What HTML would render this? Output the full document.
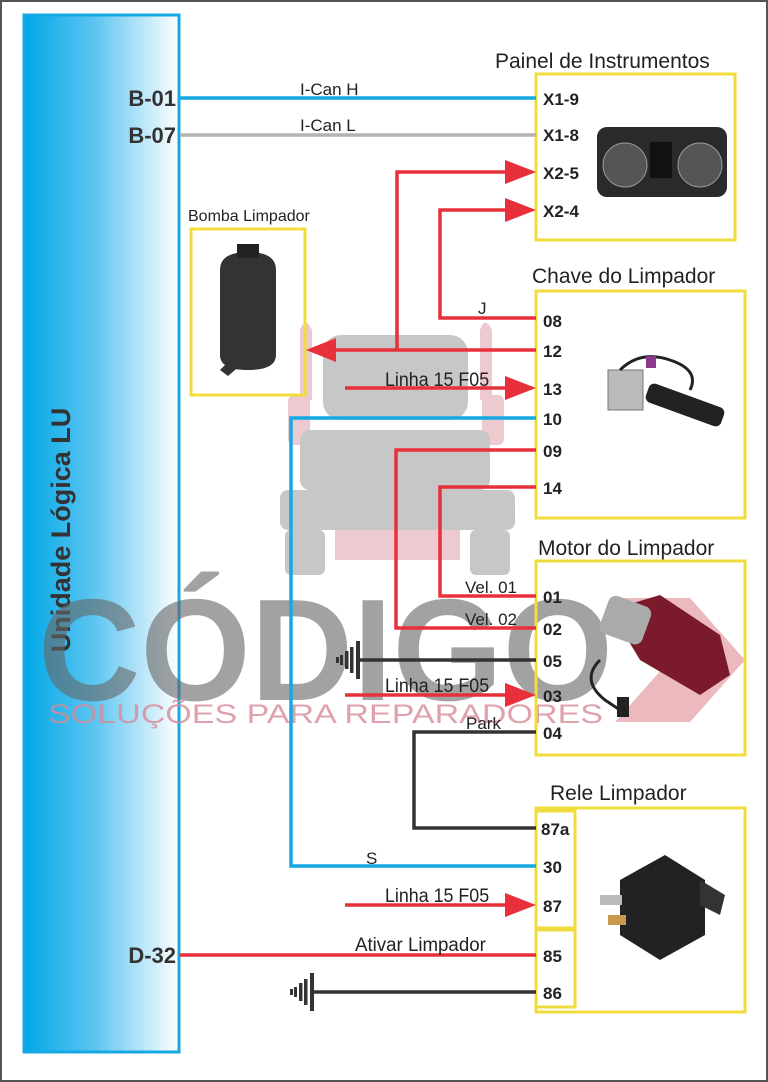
<!DOCTYPE html>
<html><head><meta charset="utf-8"><style>
html,body{margin:0;padding:0;background:#fff;}
svg{display:block;font-family:"Liberation Sans",Arial,sans-serif;}
.pin{font-weight:bold;font-size:17px;fill:#222;}
.t{font-size:21px;fill:#222;}
.l{font-size:17px;fill:#222;}
</style></head><body>
<svg width="768" height="1082" viewBox="0 0 768 1082" xmlns="http://www.w3.org/2000/svg">
<defs>
<linearGradient id="g" x1="0" x2="1" y1="0" y2="0">
<stop offset="0" stop-color="#00a8e8"/><stop offset="0.45" stop-color="#5cc4f0"/><stop offset="1" stop-color="#ffffff"/>
</linearGradient>
</defs>
<rect x="1" y="1" width="766" height="1080" fill="#fff" stroke="#555" stroke-width="2"/>
<rect x="24" y="15" width="155" height="1037" fill="url(#g)" stroke="#16a8e4" stroke-width="3"/>
<text transform="translate(70,530) rotate(-90)" text-anchor="middle" font-size="27" font-weight="bold" fill="#333">Unidade Lógica LU</text>
<text x="176" y="106" text-anchor="end" font-weight="bold" font-size="22" fill="#333">B-01</text>
<text x="176" y="143" text-anchor="end" font-weight="bold" font-size="22" fill="#333">B-07</text>
<text x="176" y="963" text-anchor="end" font-weight="bold" font-size="22" fill="#333">D-32</text>

<g opacity="0.55">
<path d="M300 330 q5 -15 12 0 v70 h-12z M480 330 q5 -15 12 0 v70 h-12z" fill="#e0a0a8"/>
<rect x="323" y="335" width="145" height="85" rx="18" fill="#9a9a9a"/>
<rect x="288" y="395" width="22" height="50" rx="6" fill="#e0a0a8"/>
<rect x="482" y="395" width="22" height="50" rx="6" fill="#e0a0a8"/>
<rect x="300" y="430" width="190" height="60" rx="10" fill="#9a9a9a"/>
<rect x="280" y="490" width="235" height="40" rx="8" fill="#9a9a9a"/>
<rect x="285" y="530" width="40" height="45" rx="6" fill="#9a9a9a"/>
<rect x="470" y="530" width="40" height="45" rx="6" fill="#9a9a9a"/>
<rect x="335" y="530" width="125" height="30" fill="#e0a0a8"/>
</g>
<text x="38" y="700" font-size="145" font-weight="bold" fill="#666" opacity="0.6" textLength="575" lengthAdjust="spacingAndGlyphs">CÓDIGO</text>
<path d="M615 598 L690 598 L745 660 L690 722 L615 722 L670 660Z" fill="#d05060" opacity="0.4"/>
<text x="48" y="723" font-size="27" fill="#d88a98" opacity="0.8" textLength="555" lengthAdjust="spacingAndGlyphs">SOLUÇÕES PARA REPARADORES</text>

<g fill="none" stroke="#f0dc3c" stroke-width="3">
<rect x="536" y="74" width="199" height="166"/>
<rect x="536" y="291" width="209" height="227"/>
<rect x="536" y="561" width="209" height="194"/>
<rect x="536" y="808" width="209" height="204"/>
<rect x="536" y="811" width="39" height="117"/>
<rect x="536" y="930" width="39" height="77"/>
<rect x="191" y="229" width="114" height="166"/>
</g>
<text x="495" y="68" class="t">Painel de Instrumentos</text>
<text x="532" y="283" class="t">Chave do Limpador</text>
<text x="538" y="555" class="t">Motor do Limpador</text>
<text x="550" y="800" class="t">Rele Limpador</text>
<text x="188" y="221" font-size="16" fill="#222">Bomba Limpador</text>

<g fill="none" stroke-width="3.5">
<path d="M180 98 H536" stroke="#16a8e4"/>
<path d="M180 135 H536" stroke="#b4b4b4"/>
<path d="M536 418 H291 V866 H536" stroke="#16a8e4"/>
<path d="M397 350 V172 H510" stroke="#e8303a"/>
<path d="M536 318 H440 V210 H510" stroke="#e8303a"/>
<path d="M536 350 H330" stroke="#e8303a"/>
<path d="M345 388 H510" stroke="#e8303a"/>
<path d="M536 450 H396 V628 H536" stroke="#e8303a"/>
<path d="M536 487 H440 V596 H536" stroke="#e8303a"/>
<path d="M345 695 H510" stroke="#e8303a"/>
<path d="M345 905 H510" stroke="#e8303a"/>
<path d="M180 955 H536" stroke="#e8303a"/>
<path d="M536 660 H358" stroke="#333"/>
<path d="M536 732 H414 V828 H536" stroke="#333"/>
<path d="M536 992 H312" stroke="#333"/>
</g>
<g fill="#e8303a">
<path d="M536 172 L505 160 L505 184Z"/>
<path d="M536 210 L505 198 L505 222Z"/>
<path d="M306 350 L336 338 L336 362Z"/>
<path d="M536 388 L505 376 L505 400Z"/>
<path d="M536 695 L505 683 L505 707Z"/>
<path d="M536 905 L505 893 L505 917Z"/>
</g>
<g fill="#333">
<rect x="356" y="641" width="4" height="38"/><rect x="350" y="647" width="3.5" height="26"/><rect x="345" y="651" width="3.5" height="18"/><rect x="340" y="655" width="3" height="10"/><rect x="336" y="657" width="3" height="6"/>
<rect x="310" y="973" width="4" height="38"/><rect x="304" y="979" width="3.5" height="26"/><rect x="299" y="983" width="3.5" height="18"/><rect x="294" y="987" width="3" height="10"/><rect x="290" y="989" width="3" height="6"/>
</g>
<text x="300" y="95" class="l">I-Can H</text>
<text x="300" y="131" class="l">I-Can L</text>
<text x="478" y="314" class="l">J</text>
<text class="l" transform="translate(385,386) scale(1.05,1.15)">Linha 15 F05</text>
<text x="465" y="593" class="l">Vel. 01</text>
<text x="465" y="625" class="l">Vel. 02</text>
<text class="l" transform="translate(385,692) scale(1.05,1.15)">Linha 15 F05</text>
<text x="466" y="729" class="l">Park</text>
<text x="366" y="864" class="l">S</text>
<text class="l" transform="translate(385,902) scale(1.05,1.15)">Linha 15 F05</text>
<text class="l" transform="translate(355,951) scale(1.1,1.15)">Ativar Limpador</text>
<g class="pin">
<text x="543" y="105">X1-9</text><text x="543" y="141">X1-8</text><text x="543" y="179">X2-5</text><text x="543" y="217">X2-4</text>
<text x="543" y="327">08</text><text x="543" y="357">12</text><text x="543" y="395">13</text><text x="543" y="425">10</text><text x="543" y="457">09</text><text x="543" y="494">14</text>
<text x="543" y="603">01</text><text x="543" y="635">02</text><text x="543" y="667">05</text><text x="543" y="702">03</text><text x="543" y="739">04</text>
<text x="541" y="835">87a</text><text x="543" y="873">30</text><text x="543" y="912">87</text><text x="543" y="962">85</text><text x="543" y="999">86</text>
</g>
<rect x="597" y="127" width="130" height="70" rx="10" fill="#2a2a2a"/>
<circle cx="625" cy="165" r="22" fill="#555" stroke="#999"/><circle cx="700" cy="165" r="22" fill="#555" stroke="#999"/>
<rect x="650" y="142" width="22" height="36" fill="#111"/>
<path d="M220 270 q0 -18 28 -18 q28 0 28 18 v85 q0 15 -28 15 q-28 0 -28 -15z" fill="#333"/>
<rect x="237" y="244" width="22" height="14" fill="#222"/>
<path d="M230 360 l-10 10 l8 6 l14 -12z" fill="#333"/>
<rect x="645" y="395" width="80" height="20" rx="6" transform="rotate(20 685 405)" fill="#222"/>
<rect x="608" y="370" width="35" height="40" fill="#bbb" stroke="#777"/>
<path d="M620 370 q20 -20 50 -10 q30 10 20 30" fill="none" stroke="#222" stroke-width="3"/>
<rect x="646" y="356" width="10" height="12" fill="#8a3a8a"/>
<path d="M610 610 l50 -15 l60 40 l10 40 l-30 20 l-60 -35z" fill="#7a1a2a"/>
<rect x="603" y="600" width="45" height="40" rx="8" fill="#aaa" transform="rotate(20 625 620)"/>
<path d="M600 660 q-20 20 5 40 l15 10" fill="none" stroke="#222" stroke-width="3"/>
<rect x="617" y="697" width="12" height="20" fill="#222"/>
<path d="M620 880 l45 -25 l40 25 v55 l-45 25 l-40 -25z" fill="#222"/>
<path d="M700 880 l25 15 l-5 20 l-20 -10z" fill="#333"/>
<rect x="600" y="895" width="22" height="10" fill="#bbb"/><rect x="608" y="915" width="18" height="10" fill="#c89a50"/>
</svg>
</body></html>
